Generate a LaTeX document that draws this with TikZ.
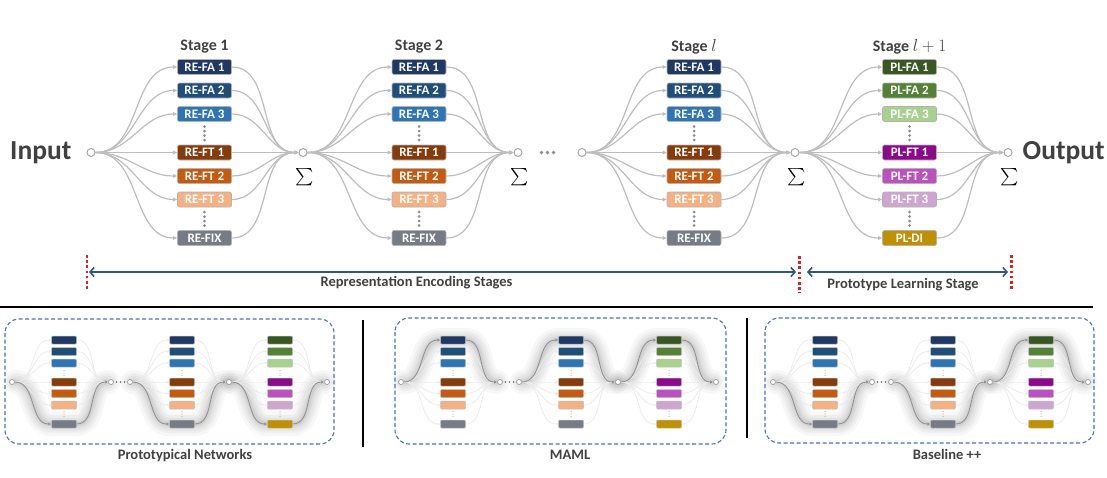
\documentclass[tikz,border=0pt]{standalone}
\usepackage{amsmath}
\usepackage{fontspec}
\setmainfont{Carlito}
\usetikzlibrary{arrows.meta,positioning}

\definecolor{refaA}{HTML}{1F3864}
\definecolor{refaB}{HTML}{1F4E79}
\definecolor{refaC}{HTML}{2E75B6}
\definecolor{reftA}{HTML}{843C0C}
\definecolor{reftB}{HTML}{C55A11}
\definecolor{reftC}{HTML}{F4B183}
\definecolor{refix}{HTML}{767C86}
\definecolor{plfaA}{HTML}{385723}
\definecolor{plfaB}{HTML}{548235}
\definecolor{plfaC}{HTML}{A9D18E}
\definecolor{plftA}{HTML}{8A0A8A}
\definecolor{plftB}{HTML}{BC50C0}
\definecolor{plftC}{HTML}{CDA6D0}
\definecolor{pldi}{HTML}{BF9000}
\definecolor{linkgray}{HTML}{BDBDBD}
\definecolor{txtgray}{HTML}{404040}
\definecolor{arrowblue}{HTML}{2F5580}
\definecolor{panelblue}{HTML}{4472C4}
\definecolor{dotred}{HTML}{E02020}

\pgfdeclarelayer{background}
\pgfsetlayers{background,main}

\tikzset{
    stagebox/.style={
        rectangle,
        rounded corners=2pt,
        draw=black!30, % light outline
        line width=0.6pt,
        minimum width=54pt,
        minimum height=15pt,
        inner sep=0,
        text=white,
        font=\fontsize{13}{13}\selectfont\bfseries
    },
    minibox/.style={
        rectangle,
        rounded corners=1pt,
        draw=black!25,
        line width=0.5pt,
        minimum width=25pt,
        minimum height=8pt,
        inner sep=0
    },
    sumnode/.style={
        circle,
        draw=black!35,
        fill=white,
        line width=1pt,
        minimum size=8pt,
        inner sep=0
    },
    minisum/.style={
        circle,
        draw=black!40,
        fill=white,
        line width=0.7pt,
        minimum size=5pt,
        inner sep=0
    },
    link/.style={
        draw=linkgray,
        line width=1.2pt,
        -{Triangle[length=4pt,width=3.5pt]}
    },
    faintlink/.style={
        draw=black!8,
        line width=0.8pt,
        -{Triangle[length=2.5pt,width=2.5pt]}
    },
    hilink/.style={
        draw=black!42,
        line width=1pt,
        -{Triangle[length=3pt,width=3pt]}
    },
    biglabel/.style={
        text=txtgray,
        inner sep=0,
        font=\fontsize{27.5}{28}\selectfont\bfseries
    },
    stagelabel/.style={
        text=txtgray,
        inner sep=0,
        font=\fontsize{16}{16}\selectfont\bfseries
    },
    spanlabel/.style={
        text=txtgray,
        inner sep=0,
        font=\fontsize{14.5}{15}\selectfont\bfseries
    },
    sigmalabel/.style={
        inner sep=0,
        font=\fontsize{18}{18}\selectfont
    },
    spanarrow/.style={
        draw=arrowblue,
        line width=1.6pt,
        {Straight Barb[length=4pt,width=9pt]}-{Straight Barb[length=4pt,width=9pt]}
    },
    reddots/.style={
        draw=dotred,
        line width=2.6pt,
        dash pattern=on 2.6pt off 2.6pt
    },
    panelframe/.style={
        draw=panelblue,
        line width=1.1pt,
        dash pattern=on 4pt off 2.5pt,
        rounded corners=14pt
    }
}

% boxes of the top row: text / colour / y
\newcommand{\relist}{RE-FA 1/refaA/67, RE-FA 2/refaB/90.5, RE-FA 3/refaC/114, RE-FT 1/reftA/152.5, RE-FT 2/reftB/176, RE-FT 3/reftC/199.5, RE-FIX/refix/238}
\newcommand{\pllist}{PL-FA 1/plfaA/67, PL-FA 2/plfaB/90.5, PL-FA 3/plfaC/114, PL-FT 1/plftA/152.5, PL-FT 2/plftB/176, PL-FT 3/plftC/199.5, PL-DI/pldi/238}
% boxes of the small copies: colour / y
\newcommand{\minire}{refaA/340, refaB/351.5, refaC/363, reftA/382, reftB/393.5, reftC/405, refix/424}
\newcommand{\minipl}{plfaA/340, plfaB/351.5, plfaC/363, plftA/382, plftB/393.5, plftC/405, pldi/424}

% one stage: #1 name, #2 source node, #3 x of the boxes, #4 sum node, #5 box list
\newcommand{\bigstage}[5]{%
    \foreach \lab/\col/\yy [count=\i] in #5 {
        \node[stagebox, fill=\col] (#1-\i) at (#3,\yy) {\lab};
        \draw[link] (#2) to[out=0, in=180] (#1-\i.west);
        \draw[link] (#1-\i.east) to[out=0, in=180] (#4);
    }
    \foreach \yy in {126.5,131,135.5,140,212,216.5,221,225.5}
        \fill[black!45] (#3,\yy) circle (1.5);
}

\newcommand{\ministage}[5]{%
    \foreach \col/\yy [count=\i] in #5 {
        \node[minibox, fill=\col] (#1-\i) at (#3,\yy) {};
        \draw[faintlink] (#2) to[out=0, in=180] (#1-\i.west);
        \draw[faintlink] (#1-\i.east) to[out=0, in=180] (#4);
    }
    \foreach \yy in {370.5,373,375.5,411.5,414,416.5}
        \fill[black!40] (#3,\yy) circle (0.5);
}

% taken path with its soft shadow: #1 source, #2 box, #3 sum
\newcommand{\hipath}[3]{%
    \begin{pgfonlayer}{background}
        \foreach \w/\o in {24/0.03, 18/0.035, 13/0.04, 8/0.045, 4/0.05}
            \draw[line width=\w pt, black, opacity=\o, line cap=round, line join=round]
                (#1) to[out=0, in=180] (#2.west) -- (#2.east) to[out=0, in=180] (#3);
    \end{pgfonlayer}
    \draw[hilink] (#1) to[out=0, in=180] (#2.west);
    \draw[hilink] (#2.east) to[out=0, in=180] (#3);
}

% small copy: #1 name, #2 x of its input, #3 #4 #5 row taken in each stage
\newcommand{\minipanel}[5]{%
    \node[minisum] (#1-in) at (#2,382) {};
    \node[minisum] (#1-s1) at (#2+99,382) {};
    \node[minisum] (#1-in2) at (#2+118,382) {};
    \node[minisum] (#1-s2) at (#2+217,382) {};
    \node[minisum] (#1-out) at (#2+315,382) {};
    \foreach \dx in {104.5,108.5,112.5}
        \fill[black!60] (#2+\dx,382) circle (0.9);
    \ministage{#1a}{#1-in}{#2+52}{#1-s1}{\minire}
    \ministage{#1b}{#1-in2}{#2+170}{#1-s2}{\minire}
    \ministage{#1c}{#1-s2}{#2+268}{#1-out}{\minipl}
    \hipath{#1-in}{#1a-#3}{#1-s1}
    \hipath{#1-in2}{#1b-#4}{#1-s2}
    \hipath{#1-s2}{#1c-#5}{#1-out}
}

\begin{document}
\begin{tikzpicture}[x=1pt, y=-1pt]
    \useasboundingbox (0,0) rectangle (1107,477);

    % top row
    \node[sumnode] (in0) at (91,152.5) {};
    \node[sumnode] (sum1) at (303,152.5) {};
    \node[sumnode] (sum2) at (518,152.5) {};
    \node[sumnode] (inl) at (582,152.5) {};
    \node[sumnode] (suml) at (795,152.5) {};
    \node[sumnode] (out0) at (1008,152.5) {};

    \bigstage{st1}{in0}{204.5}{sum1}{\relist}
    \bigstage{st2}{sum1}{419}{sum2}{\relist}
    \bigstage{stl}{inl}{694}{suml}{\relist}
    \bigstage{stp}{suml}{909.5}{out0}{\pllist}

    \foreach \xx in {541.5,547.5,553.5}
        \fill[black!45] (\xx,152.5) circle (1.8);

    \node[biglabel, left=15pt of in0] (inputlabel) {Input};
    \node[biglabel, right=10pt of out0] (outputlabel) {Output};

    \node[stagelabel] (lab1) at (204.5,47) {Stage 1};
    \node[stagelabel] (lab2) at (419,47) {Stage 2};
    \node[stagelabel] (labl) at (694,47) {Stage $l$};
    \node[stagelabel] (labp) at (909.5,47) {Stage $l+1$};

    \node[sigmalabel] (sig1) at (305,177) {$\sum$};
    \node[sigmalabel] (sig2) at (520,177) {$\sum$};
    \node[sigmalabel] (sigl) at (797,177) {$\sum$};
    \node[sigmalabel] (sigp) at (1010,177) {$\sum$};

    % stage spans
    \coordinate (reL) at (89,272);
    \coordinate (reR) at (796,272);
    \coordinate (plL) at (807,272);
    \coordinate (plR) at (1008,272);
    \draw[spanarrow] (reL) -- (reR);
    \draw[spanarrow] (plL) -- (plR);
    \node[spanlabel] (relabel) at (416.5,282.5) {Representation Encoding Stages};
    \node[spanlabel] (pllabel) at (903,285) {Prototype Learning Stage};
    \draw[reddots] (87,255) -- (87,289);
    \draw[reddots] (799.5,256) -- (799.5,293);
    \draw[reddots] (1011.5,255) -- (1011.5,290);

    \draw[line width=2pt] (0,306.5) -- (1093,306.5);
    \draw[line width=1.5pt] (363,320) -- (363,447);
    \draw[line width=1.5pt] (747,318) -- (747,438);

    % three methods
    \draw[panelframe] (5,319) rectangle (334,444);
    \draw[panelframe] (395,318) rectangle (726,444);
    \draw[panelframe] (765,318) rectangle (1094,443);
    \minipanel{pn}{12}{7}{7}{7}
    \minipanel{ml}{401}{1}{1}{1}
    \minipanel{bl}{773}{7}{7}{1}
    \node[spanlabel] (pnlabel) at (185,456) {Prototypical Networks};
    \node[spanlabel] (mllabel) at (570,455) {MAML};
    \node[spanlabel] (bllabel) at (947,454) {Baseline ++};
\end{tikzpicture}
\end{document}
